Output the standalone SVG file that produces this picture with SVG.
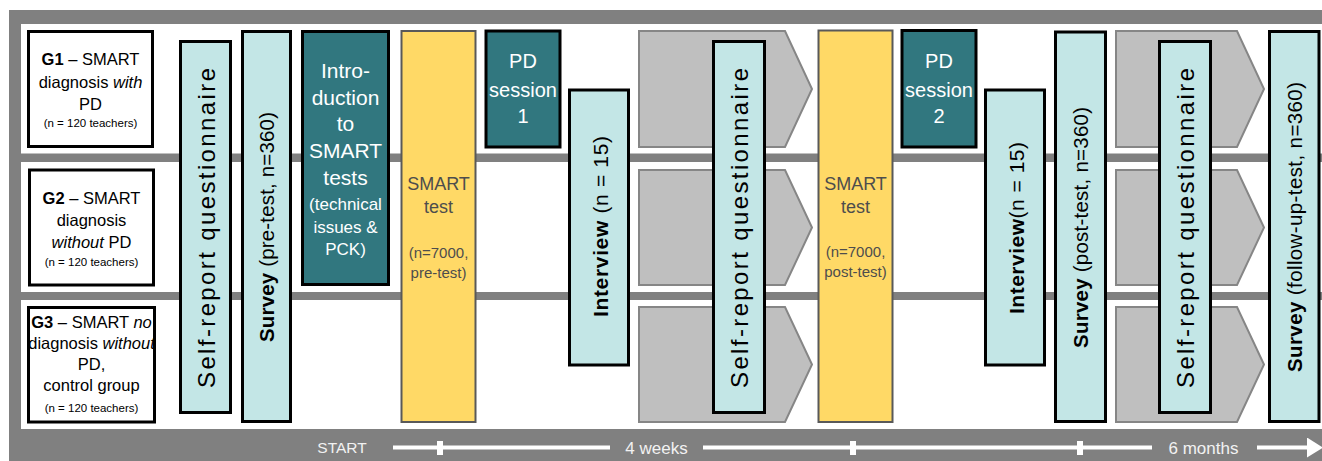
<svg xmlns="http://www.w3.org/2000/svg" width="1322" height="461" viewBox="0 0 1322 461">
<style>
text{font-family:"Liberation Sans",Arial,sans-serif}
.frame{fill:#808080}
.grp{fill:#fff;stroke:#000;stroke-width:3}
.lb{fill:#c3e6e6;stroke:#000;stroke-width:3}
.teal{fill:#31777f;stroke:#000;stroke-width:3}
.smart{fill:#ffd966;stroke:#595959;stroke-width:2}
.chev{fill:#bfbfbf;stroke:#868686;stroke-width:2}
.gt{font-size:16.5px;fill:#000;text-anchor:middle}
.gs{font-size:11.5px;fill:#000;text-anchor:middle}
.wt{fill:#fff;text-anchor:middle}
.yt{fill:#4d4d4d;text-anchor:middle}
.rot{text-anchor:middle;fill:#000}
.tl{fill:#f2f2f2;text-anchor:middle}
.tw{fill:#fff}
</style>
<defs>
<marker id="ah" markerWidth="4" markerHeight="5" refX="0" refY="2.5" orient="auto" markerUnits="strokeWidth"><path d="M0,0 L4,2.5 L0,5 Z" fill="#fff"/></marker>
</defs>

<g id="frame">
<rect class="frame" x="9" y="10" width="1313" height="451"/>
<rect x="21" y="24" width="1301" height="405" fill="#fff"/>
<rect class="frame" x="21" y="153.5" width="1301" height="8.5"/>
<rect class="frame" x="21" y="292" width="1301" height="8"/>
</g>

<g id="g1">
<rect class="grp" x="28.5" y="31.5" width="124" height="115"/>
<text class="gt" x="90.5" y="65"><tspan font-weight="bold">G1</tspan> – SMART</text>
<text class="gt" x="90.5" y="87.5">diagnosis <tspan font-style="italic">with</tspan></text>
<text class="gt" x="90.5" y="110">PD</text>
<text class="gs" x="90.5" y="127">(n = 120 teachers)</text>
</g>
<g id="g2">
<rect class="grp" x="29.5" y="170" width="124" height="115"/>
<text class="gt" x="91.5" y="203.5"><tspan font-weight="bold">G2</tspan> – SMART</text>
<text class="gt" x="91.5" y="225.5">diagnosis</text>
<text class="gt" x="91.5" y="248"><tspan font-style="italic">without</tspan> PD</text>
<text class="gs" x="91.5" y="266">(n = 120 teachers)</text>
</g>
<g id="g3">
<rect class="grp" x="28.5" y="307.5" width="126" height="114.5"/>
<text class="gt" x="91.5" y="328" font-size="16"><tspan font-weight="bold">G3</tspan> – SMART <tspan font-style="italic">no</tspan></text>
<text class="gt" x="91.5" y="349" font-size="16">diagnosis <tspan font-style="italic">without</tspan></text>
<text class="gt" x="91.5" y="370" font-size="16">PD,</text>
<text class="gt" x="91.5" y="391" font-size="16">control group</text>
<text class="gs" x="91.5" y="412">(n = 120 teachers)</text>
</g>

<g id="chevrons1">
<polygon class="chev" points="639,31 785,31 812,89 785,147 639,147"/>
<polygon class="chev" points="639,170 785,170 812,227.5 785,285 639,285"/>
<polygon class="chev" points="639,307 785,307 812,364.5 785,422 639,422"/>
</g>
<g id="chevrons2">
<polygon class="chev" points="1116,31 1237,31 1264,89 1237,147 1116,147"/>
<polygon class="chev" points="1116,170 1237,170 1264,227.5 1237,285 1116,285"/>
<polygon class="chev" points="1116,307 1237,307 1264,364.5 1237,422 1116,422"/>
</g>

<g id="selfreport1">
<rect class="lb" x="180.5" y="41.5" width="50" height="371"/>
<text class="rot" transform="translate(205.5,228) rotate(-90)" x="0" y="9" font-size="24" textLength="320" lengthAdjust="spacing">Self-report questionnaire</text>
</g>
<g id="survey-pre">
<rect class="lb" x="242.5" y="31.5" width="48" height="390"/>
<text class="rot" transform="translate(266.5,227) rotate(-90)" x="0" y="7" font-size="20.5" textLength="230" lengthAdjust="spacing"><tspan font-weight="bold">Survey</tspan> (pre-test, n=360)</text>
</g>
<g id="intro">
<rect class="teal" x="302.5" y="31.5" width="86" height="253"/>
<text class="wt" font-size="21"><tspan x="345.5" y="78">Intro-</tspan><tspan x="345.5" y="105">duction</tspan><tspan x="345.5" y="131">to</tspan><tspan x="345.5" y="158">SMART</tspan><tspan x="345.5" y="185">tests</tspan></text>
<text class="wt" font-size="17"><tspan x="345.5" y="210">(technical</tspan><tspan x="345.5" y="233">issues &amp;</tspan><tspan x="345.5" y="255">PCK)</tspan></text>
</g>
<g id="smart1">
<rect class="smart" x="401.5" y="31" width="74" height="391"/>
<text class="yt" font-size="18"><tspan x="438.5" y="190">SMART</tspan><tspan x="438.5" y="213">test</tspan></text>
<text class="yt" font-size="15"><tspan x="438.5" y="258">(n=7000,</tspan><tspan x="438.5" y="278">pre-test)</tspan></text>
</g>
<g id="pd1">
<rect class="teal" x="486" y="31" width="74" height="116"/>
<text class="wt" font-size="20"><tspan x="523" y="68">PD</tspan><tspan x="523" y="97">session</tspan><tspan x="523" y="123">1</tspan></text>
</g>
<g id="interview1">
<rect class="lb" x="569.5" y="90" width="59" height="275"/>
<text class="rot" transform="translate(599,226.5) rotate(-90)" x="0" y="9" font-size="21" textLength="181" lengthAdjust="spacing"><tspan font-weight="bold">Interview</tspan>  (n = 15)</text>
</g>
<g id="selfreport2">
<rect class="lb" x="713.5" y="41.5" width="51" height="371"/>
<text class="rot" transform="translate(739,228) rotate(-90)" x="0" y="9" font-size="24" textLength="320" lengthAdjust="spacing">Self-report questionnaire</text>
</g>
<g id="smart2">
<rect class="smart" x="818.5" y="30.5" width="74" height="391.5"/>
<text class="yt" font-size="18"><tspan x="855.5" y="190">SMART</tspan><tspan x="855.5" y="213">test</tspan></text>
<text class="yt" font-size="15"><tspan x="855.5" y="257">(n=7000,</tspan><tspan x="855.5" y="277">post-test)</tspan></text>
</g>
<g id="pd2">
<rect class="teal" x="902" y="30.5" width="74" height="116.5"/>
<text class="wt" font-size="20"><tspan x="939" y="68">PD</tspan><tspan x="939" y="97">session</tspan><tspan x="939" y="123">2</tspan></text>
</g>
<g id="interview2">
<rect class="lb" x="985.5" y="90" width="59" height="275"/>
<text class="rot" transform="translate(1015,228) rotate(-90)" x="0" y="9" font-size="21" textLength="172" lengthAdjust="spacing"><tspan font-weight="bold">Interview</tspan>(n = 15)</text>
</g>
<g id="survey-post">
<rect class="lb" x="1055.5" y="32" width="50" height="389.5"/>
<text class="rot" transform="translate(1080.5,227.5) rotate(-90)" x="0" y="7.5" font-size="20.5" textLength="241" lengthAdjust="spacing"><tspan font-weight="bold">Survey</tspan> (post-test, n=360)</text>
</g>
<g id="selfreport3">
<rect class="lb" x="1159.5" y="41.5" width="51" height="371"/>
<text class="rot" transform="translate(1185,228) rotate(-90)" x="0" y="9" font-size="24" textLength="320" lengthAdjust="spacing">Self-report questionnaire</text>
</g>
<g id="survey-followup">
<rect class="lb" x="1269.5" y="31.5" width="49.5" height="390"/>
<text class="rot" transform="translate(1294.5,227) rotate(-90)" x="0" y="7.5" font-size="20.5" textLength="290" lengthAdjust="spacing"><tspan font-weight="bold">Survey</tspan> (follow-up-test, n=360)</text>
</g>

<g id="timeline">
<text class="tl" x="342" y="453" font-size="15.5">START</text>
<line x1="393" y1="447.5" x2="610" y2="447.5" stroke="#fff" stroke-width="4"/>
<rect class="tw" x="437" y="441" width="6" height="14"/>
<text class="tl" x="656.5" y="454" font-size="17">4 weeks</text>
<line x1="703" y1="447.5" x2="1152" y2="447.5" stroke="#fff" stroke-width="4"/>
<rect class="tw" x="850" y="441" width="6" height="14"/>
<rect class="tw" x="1077" y="441" width="6" height="14"/>
<text class="tl" x="1203.5" y="454" font-size="17">6 months</text>
<line x1="1257" y1="447.5" x2="1307" y2="447.5" stroke="#fff" stroke-width="4" marker-end="url(#ah)"/>
</g>
</svg>
